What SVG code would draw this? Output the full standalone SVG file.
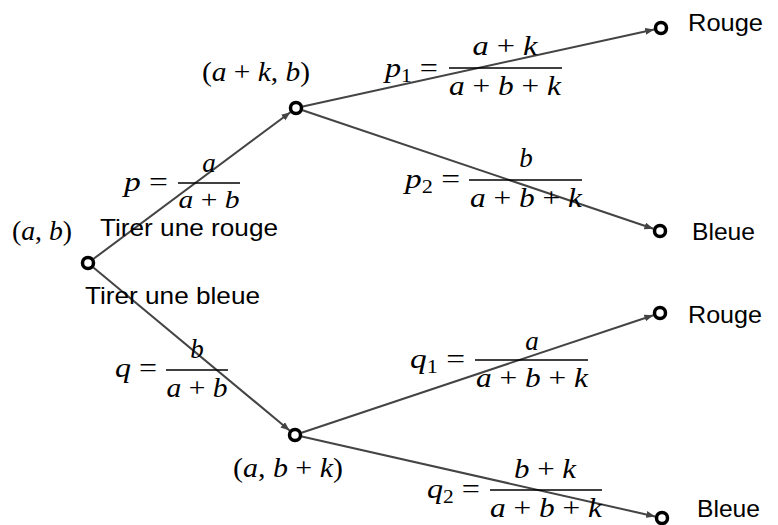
<svg xmlns="http://www.w3.org/2000/svg" width="778" height="525" viewBox="0 0 778 525">
<style>
.bg{fill:#fff}
.edge{stroke:#444;stroke-width:2;fill:none;marker-end:url(#arr)}
.dot{fill:#fff;stroke:#000;stroke-width:3.5}
.m{font-family:"Liberation Serif","DejaVu Serif",serif;font-size:27px;fill:#000}
.i{font-style:italic}
.sub{font-size:18px}
.s{font-family:"Liberation Sans",Arial,sans-serif;font-size:24px;fill:#000}
.bar{stroke:#000;stroke-width:1.4}
</style>
<defs>
<marker id="arr" markerUnits="userSpaceOnUse" markerWidth="10" markerHeight="8" refX="9" refY="3.5" orient="auto">
<path d="M0,0 L9,3.5 L0,7 z" fill="#444"/>
</marker>
</defs>
<rect class="bg" x="0" y="0" width="778" height="525"/>
<g id="connectors">
<line class="edge" x1="93.6" y1="258.8" x2="290.4" y2="112.2"/>
<line class="edge" x1="93.4" y1="267.5" x2="289.6" y2="430.5"/>
<line class="edge" x1="302.8" y1="106.5" x2="654.2" y2="29.5"/>
<line class="edge" x1="302.6" y1="110.2" x2="653.4" y2="228.8"/>
<line class="edge" x1="301.6" y1="432.8" x2="653.4" y2="315.2"/>
<line class="edge" x1="301.8" y1="436.5" x2="655.2" y2="516.5"/>
</g>
<g id="edge-labels">
<g id="label-p">
<text class="m" x="124" y="191" textLength="44" lengthAdjust="spacingAndGlyphs"><tspan class="i">p</tspan> =</text>
<line class="bar" x1="178" y1="183" x2="240" y2="183"/>
<text class="m i" x="209" y="172" text-anchor="middle">a</text>
<text class="m" x="209" y="208" text-anchor="middle" textLength="61" lengthAdjust="spacingAndGlyphs" style="font-size:25px"><tspan class="i">a</tspan> + <tspan class="i">b</tspan></text>
</g>
<g id="label-q">
<text class="m" x="115" y="377" textLength="42" lengthAdjust="spacingAndGlyphs"><tspan class="i">q</tspan> =</text>
<line class="bar" x1="166" y1="370" x2="228" y2="370"/>
<text class="m i" x="197" y="358" text-anchor="middle">b</text>
<text class="m" x="197" y="397" text-anchor="middle" textLength="61" lengthAdjust="spacingAndGlyphs"><tspan class="i">a</tspan> + <tspan class="i">b</tspan></text>
</g>
<g id="label-p1">
<text class="m" x="385" y="77" textLength="53" lengthAdjust="spacingAndGlyphs"><tspan class="i">p</tspan><tspan class="sub" dy="5">1</tspan><tspan dy="-5"> =</tspan></text>
<line class="bar" x1="449" y1="68" x2="562" y2="68"/>
<text class="m" x="505" y="55" text-anchor="middle" textLength="65" lengthAdjust="spacingAndGlyphs"><tspan class="i">a</tspan> + <tspan class="i">k</tspan></text>
<text class="m" x="505" y="95" text-anchor="middle" textLength="112" lengthAdjust="spacingAndGlyphs"><tspan class="i">a</tspan> + <tspan class="i">b</tspan> + <tspan class="i">k</tspan></text>
</g>
<g id="label-p2">
<text class="m" x="405" y="188" textLength="55" lengthAdjust="spacingAndGlyphs"><tspan class="i">p</tspan><tspan class="sub" dy="5">2</tspan><tspan dy="-5"> =</tspan></text>
<line class="bar" x1="469" y1="180" x2="582" y2="180"/>
<text class="m i" x="526" y="167" text-anchor="middle">b</text>
<text class="m" x="526" y="207" text-anchor="middle" textLength="112" lengthAdjust="spacingAndGlyphs"><tspan class="i">a</tspan> + <tspan class="i">b</tspan> + <tspan class="i">k</tspan></text>
</g>
<g id="label-q1">
<text class="m" x="410" y="368" textLength="55" lengthAdjust="spacingAndGlyphs"><tspan class="i">q</tspan><tspan class="sub" dy="5">1</tspan><tspan dy="-5"> =</tspan></text>
<line class="bar" x1="475" y1="360" x2="588" y2="360"/>
<text class="m i" x="532" y="350" text-anchor="middle">a</text>
<text class="m" x="532" y="387" text-anchor="middle" textLength="112" lengthAdjust="spacingAndGlyphs"><tspan class="i">a</tspan> + <tspan class="i">b</tspan> + <tspan class="i">k</tspan></text>
</g>
<g id="label-q2">
<text class="m" x="427" y="498" textLength="53" lengthAdjust="spacingAndGlyphs"><tspan class="i">q</tspan><tspan class="sub" dy="5">2</tspan><tspan dy="-5"> =</tspan></text>
<line class="bar" x1="490" y1="490" x2="602" y2="490"/>
<text class="m" x="545" y="478" text-anchor="middle" textLength="62" lengthAdjust="spacingAndGlyphs"><tspan class="i">b</tspan> + <tspan class="i">k</tspan></text>
<text class="m" x="546" y="517" text-anchor="middle" textLength="112" lengthAdjust="spacingAndGlyphs"><tspan class="i">a</tspan> + <tspan class="i">b</tspan> + <tspan class="i">k</tspan></text>
</g>
<text class="s" x="100" y="236" textLength="178" lengthAdjust="spacingAndGlyphs">Tirer une rouge</text>
<text class="s" x="85" y="304" textLength="175" lengthAdjust="spacingAndGlyphs">Tirer une bleue</text>
</g>
<g id="node-root">
<circle class="dot" cx="88" cy="263" r="5.5"/>
<text class="m" x="12" y="240" textLength="60" lengthAdjust="spacingAndGlyphs">(<tspan class="i">a</tspan>, <tspan class="i">b</tspan>)</text>
</g>
<g id="node-a">
<circle class="dot" cx="296" cy="108" r="5.5"/>
<text class="m" x="202" y="81" textLength="108" lengthAdjust="spacingAndGlyphs">(<tspan class="i">a</tspan> + <tspan class="i">k</tspan>, <tspan class="i">b</tspan>)</text>
</g>
<g id="node-b">
<circle class="dot" cx="295" cy="435" r="5.5"/>
<text class="m" x="233" y="477" textLength="110" lengthAdjust="spacingAndGlyphs">(<tspan class="i">a</tspan>, <tspan class="i">b</tspan> + <tspan class="i">k</tspan>)</text>
</g>
<g id="node-rouge-top">
<circle class="dot" cx="661" cy="28" r="5.5"/>
<text class="s" x="688" y="31" textLength="75" lengthAdjust="spacingAndGlyphs">Rouge</text>
</g>
<g id="node-bleue-top">
<circle class="dot" cx="660" cy="231" r="5.5"/>
<text class="s" x="692" y="240" textLength="63" lengthAdjust="spacingAndGlyphs">Bleue</text>
</g>
<g id="node-rouge-bottom">
<circle class="dot" cx="660" cy="313" r="5.5"/>
<text class="s" x="688" y="323" textLength="74" lengthAdjust="spacingAndGlyphs">Rouge</text>
</g>
<g id="node-bleue-bottom">
<circle class="dot" cx="662" cy="518" r="5.5"/>
<text class="s" x="697" y="517" textLength="63" lengthAdjust="spacingAndGlyphs">Bleue</text>
</g>
</svg>
